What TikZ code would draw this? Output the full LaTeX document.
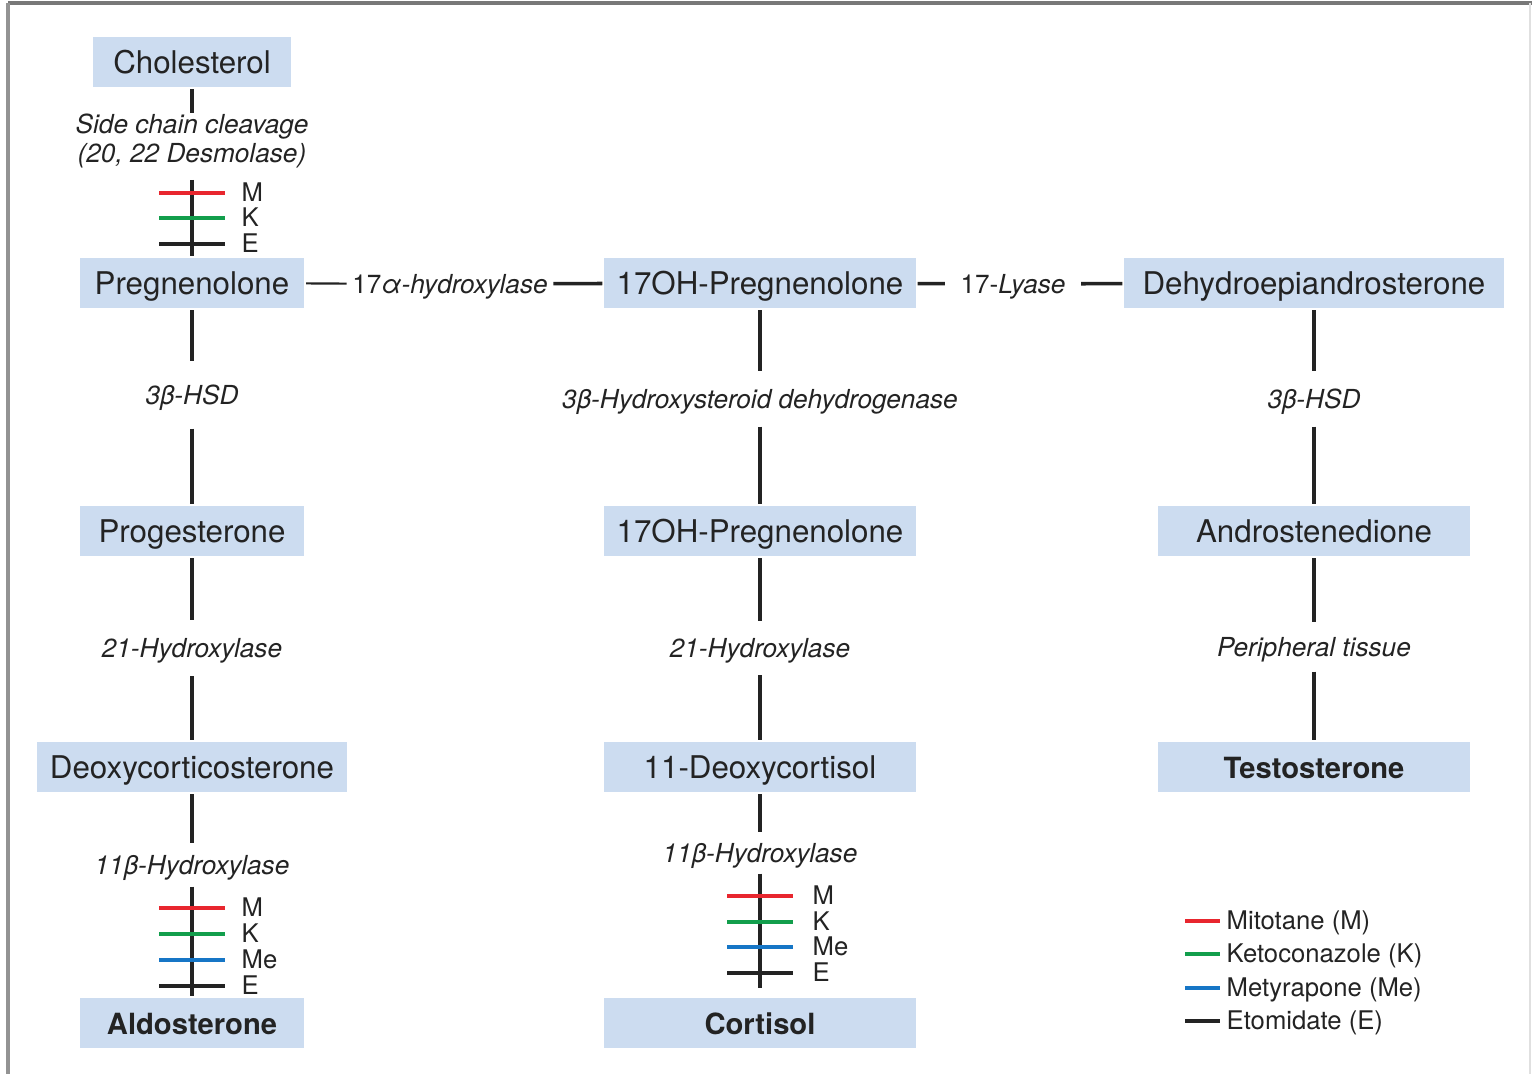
\documentclass[tikz,border=0pt]{standalone}
\usepackage{fontspec}
\setmainfont{TeX Gyre Heros}
\usepackage{tikz}
\definecolor{boxblue}{RGB}{204,220,240}
\definecolor{inkgray}{RGB}{35,35,35}
\definecolor{framegray}{RGB}{120,120,120}
\definecolor{mitored}{RGB}{232,38,46}
\definecolor{ketogreen}{RGB}{18,158,76}
\definecolor{metyblue}{RGB}{22,118,198}
\newcommand{\boxfont}  {\fontsize{8.9}{10}\selectfont}
\newcommand{\prodfont} {\fontsize{8.3}{10}\selectfont\bfseries}
\newcommand{\enzfont}  {\fontsize{7.45}{8.3}\selectfont\itshape}
\newcommand{\drugfont} {\fontsize{7.3}{8}\selectfont}

\begin{document}
\begin{tikzpicture}[x=0.01cm,y=-0.01cm,
    sbox/.style={fill=boxblue,minimum height=0.5cm,inner sep=0pt,outer sep=0.6pt,
                 text height=2.9mm,text depth=0.6mm,font=\boxfont,text=inkgray},
    enz/.style={font=\enzfont,text=inkgray,inner xsep=0pt,inner ysep=#1,text height=2.3mm,text depth=0.4mm},
    enz/.default=1mm,
    drug/.style={font=\drugfont,text=inkgray,inner sep=0pt,anchor=base west},
    link/.style={line width=1pt,inkgray},
    thinlink/.style={line width=0.6pt,inkgray},
    bar/.style={line width=1.2pt}]
     \useasboundingbox (0,0) rectangle (1532,1074);
     % frame
     \draw[line width=0.9pt,framegray] (8,3) -- (1532,3);
     \draw[line width=0.9pt,framegray!80] (8,3) -- (8,1074);
     \draw[line width=0.4pt,black!12] (1530,3) -- (1530,1074);
     % substrates
     \node[sbox,minimum width=1.97cm] (chol)   at ( 192,  62) {Cholesterol};
     \node[sbox,minimum width=2.24cm] (preg)   at ( 192, 283) {Pregnenolone};
     \node[sbox,minimum width=3.11cm] (ohpreg) at ( 760, 283) {17OH-Pregnenolone};
     \node[sbox,minimum width=3.79cm] (dhea)   at (1314, 283) {Dehydroepiandrosterone};
     \node[sbox,minimum width=2.24cm] (prog)   at ( 192, 531) {Progesterone};
     \node[sbox,minimum width=3.11cm] (ohprog) at ( 760, 531) {17OH-Pregnenolone};
     \node[sbox,minimum width=3.11cm] (andro)  at (1314, 531) {Androstenedione};
     \node[sbox,minimum width=3.10cm] (doc)    at ( 192, 767) {Deoxycorticosterone};
     \node[sbox,minimum width=3.11cm] (dcort)  at ( 760, 767) {11-Deoxycortisol};
     \node[sbox,minimum width=3.11cm,font=\prodfont] (testo) at (1314, 767) {Testosterone};
     \node[sbox,minimum width=2.24cm,font=\prodfont] (aldo)  at ( 192,1023) {Aldosterone};
     \node[sbox,minimum width=3.11cm,font=\prodfont] (cort)  at ( 760,1023) {Cortisol};
     % enzymes
     \node[font=\enzfont,text=inkgray,align=center,anchor=north,inner sep=0pt] (scc) at (192,113)
          {Side chain cleavage\\(20, 22 Desmolase)};
     \node[enz=0.9mm,inner xsep=0.5mm] (hyd17) at ( 450, 284) {{\upshape 17}α-hydroxylase};
     \node[enz=0.9mm,inner xsep=1.5mm] (lyase) at (1013, 284) {{\upshape 17-}Lyase};
     \node[enz=1.95mm] (hsdl)  at ( 192, 395) {3β-HSD};
     \node[enz=1.35mm] (hsdm)  at ( 760, 399) {3β-Hydroxysteroid dehydrogenase};
     \node[enz=1.35mm] (hsdr)  at (1314, 399) {3β-HSD};
     \node[enz=1.4mm]  (ohl)   at ( 192, 648) {21-Hydroxylase};
     \node[enz=1.3mm]  (ohm)   at ( 760, 648) {21-Hydroxylase};
     \node[enz=1.05mm] (peri)  at (1314, 647) {Peripheral tissue};
     \node[enz=0.75mm] (hyd11l) at ( 192, 865) {11β-Hydroxylase};
     \node[enz=0.65mm] (hyd11m) at ( 760, 853) {11β-Hydroxylase};
     \coordinate (sccbar) at (192,180);
     \coordinate (cortend) at (760,988);
     % connectors
     \draw[link] (chol) -- (scc);
     \draw[link] (sccbar) -- (preg);
     \draw[thinlink] (preg) -- (hyd17);
     \draw[link] (hyd17) -- (ohpreg);
     \draw[link] (ohpreg) -- (lyase);
     \draw[link] (lyase) -- (dhea);
     \draw[link] (preg) -- (hsdl);
     \draw[link] (hsdl) -- (prog);
     \draw[link] (prog) -- (ohl);
     \draw[link] (ohl) -- (doc);
     \draw[link] (doc) -- (hyd11l);
     \draw[link] (hyd11l) -- (aldo);
     \draw[link] (ohpreg) -- (hsdm);
     \draw[link] (hsdm) -- (ohprog);
     \draw[link] (ohprog) -- (ohm);
     \draw[link] (ohm) -- (dcort);
     \draw[link] (dcort) -- (hyd11m);
     \draw[link] (hyd11m) -- (cortend);
     \draw[link] (dhea) -- (hsdr);
     \draw[link] (hsdr) -- (andro);
     \draw[link] (andro) -- (peri);
     \draw[link] (peri) -- (testo);
     % inhibitors, side chain cleavage
     \draw[bar,mitored]   (159,193) -- (225,193);
     \draw[bar,ketogreen] (159,218) -- (225,218);
     \draw[bar,inkgray]   (159,244) -- (225,244);
     \node[drug] (scM) at (241,201.5) {M};
     \node[drug] (scK) at (241,226.5) {K};
     \node[drug] (scE) at (241,252.5) {E};
     % inhibitors, 11b left
     \draw[bar,mitored]   (159,908) -- (225,908);
     \draw[bar,ketogreen] (159,934) -- (225,934);
     \draw[bar,metyblue]  (159,960) -- (225,960);
     \draw[bar,inkgray]   (159,986) -- (225,986);
     \node[drug] (alM) at (241,916.5) {M};
     \node[drug] (alK) at (241,942.5) {K};
     \node[drug] (alMe) at (241,968.5) {Me};
     \node[drug] (alE) at (241,994.5) {E};
     % inhibitors, 11b middle
     \draw[bar,mitored]   (727,896) -- (793,896);
     \draw[bar,ketogreen] (727,922) -- (793,922);
     \draw[bar,metyblue]  (727,947) -- (793,947);
     \draw[bar,inkgray]   (727,973) -- (793,973);
     \node[drug] (coM) at (812,904.5) {M};
     \node[drug] (coK) at (812,930.5) {K};
     \node[drug] (coMe) at (812,955.5) {Me};
     \node[drug] (coE) at (812,981.5) {E};
     % legend
     \draw[bar,mitored]   (1185, 921) -- (1220, 921);
     \draw[bar,ketogreen] (1185, 954) -- (1220, 954);
     \draw[bar,metyblue]  (1185, 988) -- (1220, 988);
     \draw[bar,inkgray]   (1185,1021) -- (1220,1021);
     \node[drug] (legM)  at (1226, 929.5) {Mitotane (M)};
     \node[drug] (legK)  at (1226, 962.5) {Ketoconazole (K)};
     \node[drug] (legMe) at (1226, 996.5) {Metyrapone (Me)};
     \node[drug] (legE)  at (1226,1029.5) {Etomidate (E)};
    \end{tikzpicture}
\end{document}
